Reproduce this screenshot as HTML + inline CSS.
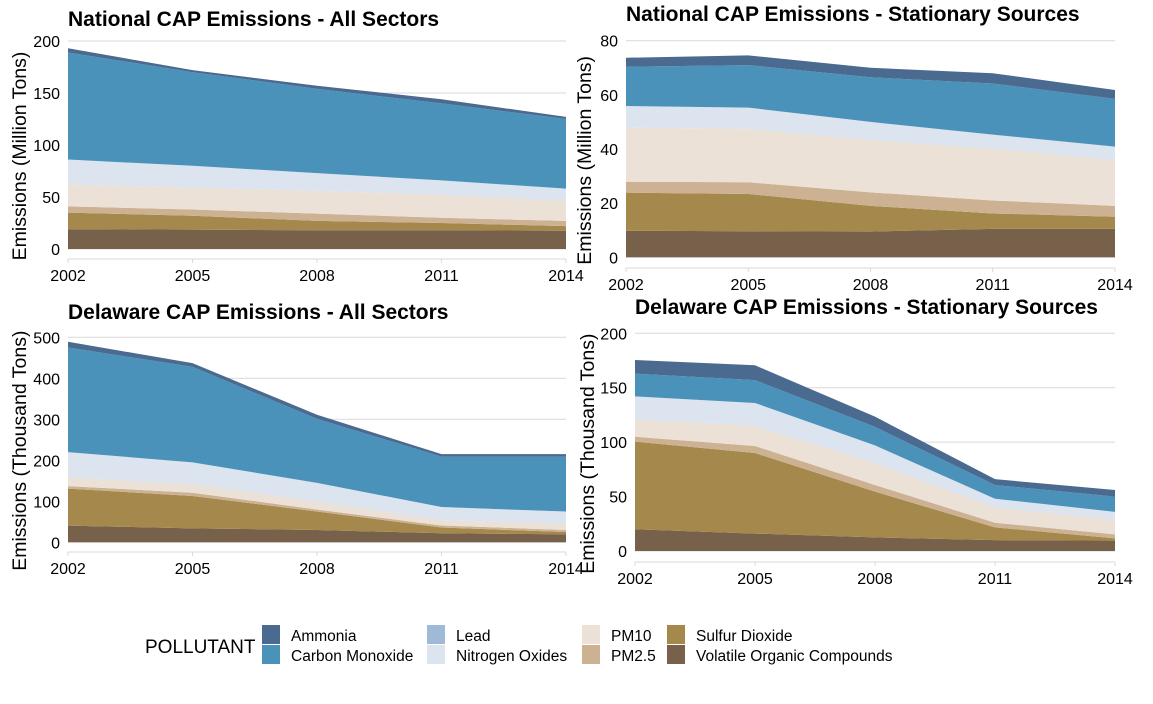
<!DOCTYPE html>
<html><head><meta charset="utf-8">
<style>
body{margin:0;background:#fff;width:1153px;height:704px;overflow:hidden;font-family:"Liberation Sans",sans-serif;}
svg{position:absolute;left:0;top:0}
</style></head>
<body>
<svg id="c" width="1153" height="704"></svg>
<script>
const years=[2002,2005,2008,2011,2014];
const pollutants=["Volatile Organic Compounds","Sulfur Dioxide","PM2.5","PM10","Lead","Nitrogen Oxides","Carbon Monoxide","Ammonia"];
const colors=["#78614a","#a5884c","#ccb293","#ebe1d6","#9fbad6","#dbe4ef","#4a92ba","#4a6a8f"];
// cumulative stack tops per pollutant (order as above), per year
const natAllVOC=[19,18.6,18,18,17.5];
const natAllSO2=[35,32,27,25,22];
const natAllPM25=[41,38,34,30,27];
const natAllPM10=[62,59,56,52,46];
const natAllLead=[62,59,56,52,46];
const natAllNOx=[86,80,73,66,58];
const natAllCO=[189,170,154,140,125];
const natAllNH3=[193,172,157,144,127];
const natStVOC=[9.8,9.6,9.5,10.5,10.5];
const natStSO2=[23.9,23.4,19,16.2,15];
const natStPM25=[27.9,27.7,24,21,19];
const natStPM10=[47.9,47.5,43.3,40,36];
const natStLead=[47.9,47.5,43.3,40,36];
const natStNOx=[55.9,55.3,50,45.3,40.9];
const natStCO=[70.4,71,66.5,64.2,58.5];
const natStNH3=[73.7,74.6,70,68,61.8];
const deAllVOC=[40.6,34,30,22,19.5];
const deAllSO2=[131,113,75,36,25];
const deAllPM25=[137,121,80,41,30];
const deAllPM10=[158,142,99,54,45];
const deAllLead=[158,142,99,54,45];
const deAllNOx=[220,195,145,86,75];
const deAllCO=[475,428,301,209,209];
const deAllNH3=[489,437,311,215,215];
const deStVOC=[20,16,12.5,10,9.5];
const deStSO2=[100.5,90,54.5,21.7,11.6];
const deStPM25=[105,96.5,60.6,26,15.3];
const deStPM10=[121,115,80.5,40,28.5];
const deStLead=[121,115,80.5,40,28.5];
const deStNOx=[142,136,97,48,36];
const deStCO=[163,157,114,60.6,50];
const deStNH3=[175.5,170.6,123.4,66,56];
const yTicksNat=[0,50,100,150,200];
const yTicksNatSt=[0,20,40,60,80];
const yTicksDeAll=[0,100,200,300,400,500];
const yTicksDeSt=[0,50,100,150,200];

const panels=[
 {name:"national-all-sectors",title:"National CAP Emissions - All Sectors",tx:68,ty:26,yt:"Emissions (Million Tons)",x0:68,x1:566,yTop:41,yBot:249,axisY:259,max:200,ticks:yTicksNat,ytx:26,
  s:[natAllVOC,natAllSO2,natAllPM25,natAllPM10,natAllLead,natAllNOx,natAllCO,natAllNH3]},
 {name:"national-stationary",title:"National CAP Emissions - Stationary Sources",tx:626,ty:21,yt:"Emissions (Million Tons)",x0:626,x1:1115,yTop:40.7,yBot:257.3,axisY:268,max:80,ticks:yTicksNatSt,ytx:591,
  s:[natStVOC,natStSO2,natStPM25,natStPM10,natStLead,natStNOx,natStCO,natStNH3]},
 {name:"delaware-all-sectors",title:"Delaware CAP Emissions - All Sectors",tx:68,ty:319,yt:"Emissions (Thousand Tons)",x0:68,x1:566,yTop:337.3,yBot:542.3,axisY:552,max:500,ticks:yTicksDeAll,ytx:26,
  s:[deAllVOC,deAllSO2,deAllPM25,deAllPM10,deAllLead,deAllNOx,deAllCO,deAllNH3]},
 {name:"delaware-stationary",title:"Delaware CAP Emissions - Stationary Sources",tx:635,ty:314,yt:"Emissions (Thousand Tons)",x0:635,x1:1115,yTop:333.3,yBot:551,axisY:562,max:200,ticks:yTicksDeSt,ytx:594,
  s:[deStVOC,deStSO2,deStPM25,deStPM10,deStLead,deStNOx,deStCO,deStNH3]}
];
const NS="http://www.w3.org/2000/svg";
const svg=document.getElementById('c');
function mk(tag,attrs,parent){const e=document.createElementNS(NS,tag);for(const k in attrs)e.setAttribute(k,attrs[k]);(parent||svg).appendChild(e);return e;}
panels.forEach(p=>{
 const g=mk('g',{});
 
 
 const xs=y=>p.x0+(y-years[0])/(years[years.length-1]-years[0])*(p.x1-p.x0);
 const ys=v=>p.yBot-v/p.max*(p.yBot-p.yTop);
 p.ticks.forEach(t=>{
  const l=mk('line',{x1:p.x0,x2:p.x1,y1:ys(t),y2:ys(t),stroke:"#d9d9d9","stroke-width":1},g);
  
  
  const tx=mk('text',{x:p.x0-8,y:ys(t)+6,"text-anchor":"end","font-size":16,fill:"#000"},g);
  tx.textContent=t;
  
  
 });
 p.s.forEach((top,i)=>{
  const bot=i>0?p.s[i-1]:years.map(()=>0);
  let d="M"+years.map((y,j)=>xs(y)+","+ys(top[j])).join(" L");
  d+=" L"+years.slice().reverse().map((y,j)=>xs(y)+","+ys(bot[years.length-1-j])).join(" L")+"Z";
  const a=mk('path',{d:d,fill:colors[i]},g);
  
  
 });
 const ax=mk('line',{x1:p.x0,x2:p.x1,y1:p.axisY,y2:p.axisY,stroke:"#d9d9d9","stroke-width":1},g);
 
 
 years.forEach(y=>{
  const tk=mk('line',{x1:xs(y),x2:xs(y),y1:p.axisY,y2:p.axisY+4,stroke:"#d9d9d9"},g);
  
  
  const t=mk('text',{x:xs(y),y:p.axisY+22,"text-anchor":"middle","font-size":16,fill:"#000"},g);
  t.textContent=y;
  
  
 });
 const tt=mk('text',{x:p.tx,y:p.ty,"font-size":21,"font-weight":"bold",fill:"#000"},g);
 tt.textContent=p.title;
 
 
 const cy=(p.yTop+p.axisY)/2+6;
 const yt=mk('text',{x:0,y:0,transform:"translate("+p.ytx+","+cy+") rotate(-90)","text-anchor":"middle","font-size":19.5,fill:"#000"},g);
 yt.textContent=p.yt;
 
 
});
const lg=mk('g',{});


const lt=mk('text',{x:145,y:653,"font-size":19,fill:"#000"},lg);
lt.textContent="POLLUTANT";


const legOrder=[7,6,4,5,3,2,1,0];
const colX=[262,427,582,667];
legOrder.forEach((pi,k)=>{
 const col=Math.floor(k/2),row=k%2;
 const x=colX[col],y=625+row*20;
 const r=mk('rect',{x:x,y:y,width:18,height:19,fill:colors[pi]},lg);
 
 
 const t=mk('text',{x:x+29,y:y+16,"font-size":15.5,fill:"#000"},lg);
 t.textContent=pollutants[pi];
 
 
});
</script>
</body></html>
